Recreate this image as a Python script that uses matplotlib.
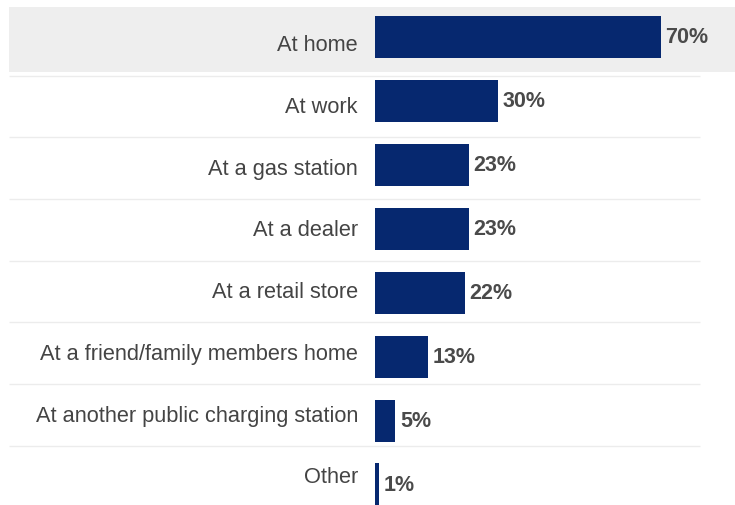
import matplotlib
matplotlib.use('Agg')
import matplotlib.pyplot as plt
import numpy as np

plt.rcParams['font.family'] = ['Liberation Sans', 'DejaVu Sans']

places = ['At home', 'At work', 'At a gas station', 'At a dealer',
          'At a retail store', 'At a friend/family members home',
          'At another public charging station', 'Other']
shares = [70, 30, 23, 23, 22, 13, 5, 1]

bar_color = '#06286f'
text_color = '#444444'
value_color = '#4a4a4a'

fig = plt.figure(figsize=(7.35, 5.06), dpi=100)

# background layer: highlighted first row, row separators and category names
ax_bg = fig.add_axes([0, 0, 1, 1])
ax_bg.set_xlim(0, 1)
ax_bg.set_ylim(7.458, -0.742)
ax_bg.axis('off')
ax_bg.axhspan(-0.613, 0.441, xmin=0.012, xmax=1.0, color='#eeeeee', lw=0, zorder=0)
rows = np.arange(len(places))
ax_bg.hlines(rows[:-1] + 0.5, 0.012, 0.952, color='#ececec', lw=1.0, zorder=1)
for i, name in enumerate(places):
    ax_bg.text(0.487, i, name, ha='right', va='center',
               fontsize=15.7, color=text_color)

# bars
ax = fig.add_axes([375 / 735, 0, 360 / 735, 1])
ax.patch.set_alpha(0)
ax.set_xlim(0, 360 / 4.0857)
ax.set_ylim((506 - 37.5) / 64, -37.5 / 64)
ax.barh(rows, shares, height=42 / 64, color=bar_color, lw=0)
for i, v in enumerate(shares):
    ax.text(v + 1.1, i, f'{v}%', ha='left', va='center',
            fontsize=15.5, fontweight='bold', color=value_color)
ax.axis('off')

fig.savefig('out.png', dpi=100)
